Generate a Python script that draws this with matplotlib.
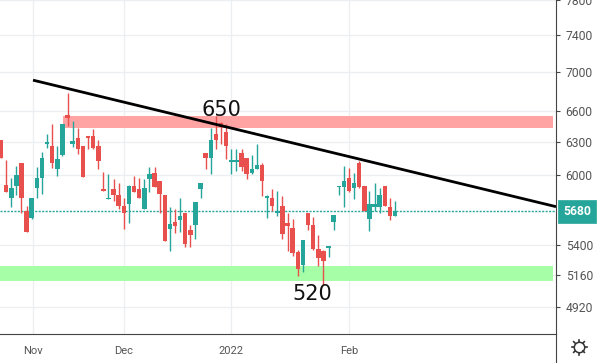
import numpy as np
import matplotlib
matplotlib.use('Agg')
import matplotlib.pyplot as plt

opens = [6322,5912,5791,5904,6110,5679,5620,5886,5974,6285,6267,6055,6183,6562,6285,6341,6267,6360,6360,6267,
         5878,5782,5878,5825,5730,5747,5904,5878,5704,5965,6019,5947,5817,5528,5587,5603,5662,5520,5562,5878,
         6202,6155,6379,6485,6398,6119,6119,6202,6155,6019,6055,6092,5791,5799,5662,5730,5578,5536,5342,5239,
         5662,5562,5366,5350,5374,5587,5895,5895,5974,5886,6110,5904,5611,5721,5721,5904,5721,5637]
highs = [6322,6137,5974,6083,6110,5730,5791,6074,6211,6379,6475,6267,6475,6782,6504,6437,6267,6360,6427,6322,
         6028,6010,5965,5930,5791,5912,5992,5974,5965,6074,6074,5947,5817,5713,5696,5799,5670,5562,5756,5930,
         6202,6437,6553,6494,6475,6239,6239,6239,6155,6183,6285,6110,5817,5878,5860,5808,5662,5611,5358,5439,
         5662,5628,5479,5358,5391,5645,5904,6083,6064,6019,6128,5904,5860,5930,5886,5904,5791,5765]
lows = [6155,5851,5713,5817,5662,5504,5611,5799,5834,6248,6064,5992,6174,6456,6257,6192,5983,6239,6239,6055,
        5860,5782,5773,5704,5528,5578,5851,5791,5704,5843,5895,5670,5431,5350,5496,5504,5383,5383,5447,5791,
        6055,6010,6239,6285,6146,6010,6037,6037,5965,6010,6055,5808,5620,5687,5637,5447,5350,5310,5154,5185,
        5520,5358,5231,5086,5302,5520,5825,5721,5851,5782,5886,5687,5512,5687,5670,5730,5603,5637]
closes = [6155,5851,5886,6001,5799,5504,5791,5974,6155,6304,6110,6146,6475,6533,6313,6239,5983,6341,6248,6128,
          5860,5799,5817,5730,5670,5904,5851,5791,5886,6010,5895,5834,5431,5570,5553,5637,5407,5479,5756,5930,
          6155,6322,6322,6446,6267,6137,6137,6074,6010,6055,6092,5947,5808,5730,5687,5488,5553,5334,5208,5439,
          5562,5366,5294,5270,5391,5645,5904,5947,5860,5930,5895,5687,5747,5747,5817,5730,5637,5687]

price_ticks = [7800,7400,7000,6600,6300,6000,5400,5160,4920]
month_pos = [6.3, 24, 45, 68]
month_labels = ['Nov','Dec','2022','Feb']
last_price = 5680

up = '#26a69a'
down = '#e8504d'

fig = plt.figure(figsize=(6.04,3.63), dpi=100)
ax = fig.add_axes([0, 29/363, 556/604, 334/363])
ax.set_yscale('log')

# zones under the candles
ax.fill_between([12.1,107.9],6438,6554,color='#ffa3a3',lw=0,zorder=1)
ax.fill_between([-1,107.9],5114,5230,color='#a6ffa6',lw=0,zorder=1)

for i in range(len(opens)):
    col = up if closes[i] >= opens[i] else down
    ax.vlines(i,lows[i],highs[i],color=col,lw=1,zorder=3)
    lo = min(opens[i],closes[i])
    hi = max(opens[i],closes[i])
    ax.bar(i,hi-lo,bottom=lo,width=0.88,color=col,lw=0,zorder=3)

ax.axhline(last_price,color=up,lw=1,ls=(0,(1.5,1)),zorder=2)
ax.plot([6.25,108.45],[6916,5720],color='black',lw=2,zorder=4,solid_capstyle='butt')

ax.text(43,6610,'650',fontsize=15,color='#111111',ha='center',va='center',zorder=5)
ax.text(60.9,5016,'520',fontsize=15,color='#111111',ha='center',va='center',zorder=5)

ax.set_xlim(-0.2,108.45)
ax.set_ylim(4725,7783)
ax.yaxis.set_minor_locator(matplotlib.ticker.NullLocator())
ax.yaxis.tick_right()
ax.set_yticks(price_ticks)
ax.set_yticklabels([str(p) for p in price_ticks],fontsize=8.7,color='#555555',family='Roboto')
ax.set_xticks(month_pos)
ax.set_xticklabels(month_labels,fontsize=8,color='#555555',family='Roboto')
ax.tick_params(axis='y',length=3,color='#444444',width=0.8,pad=4)
ax.tick_params(axis='x',length=0,pad=9)
ax.grid(True,color='#eceff2',lw=0.9,zorder=0)
ax.set_axisbelow(True)

ax.spines['top'].set_visible(False)
ax.spines['left'].set_visible(False)
ax.spines['right'].set_color('#444444')
ax.spines['bottom'].set_color('#444444')

# price label box
ax.annotate(str(last_price),xy=(1,last_price),xycoords=('axes fraction','data'),xytext=(21,0),
            textcoords='offset pixels',ha='center',va='center',fontsize=8.7,color='white',family='Roboto',
            fontweight='bold',bbox=dict(boxstyle='square,pad=0.42',fc=up,ec=up,lw=0.5),zorder=6)

# axis line going on below the plot, and the settings gear
fig.add_artist(plt.Line2D([556/604,556/604],[0,29/363],color='#444444',lw=0.8))
gear = fig.add_axes([569/604,6/363,20/604,20/363])
gear.set_xlim(-10,10)
gear.set_ylim(-10,10)
gear.axis('off')
gear.plot([0],[0],marker='o',ms=7.5,mfc='white',mec='#333333',mew=1.1)
for a in np.arange(0,360,45):
    r = np.radians(a)
    gear.plot([5.5*np.cos(r),7.5*np.cos(r)],[5.5*np.sin(r),7.5*np.sin(r)],color='#333333',lw=1.2)

fig.savefig('out.png',dpi=100)
